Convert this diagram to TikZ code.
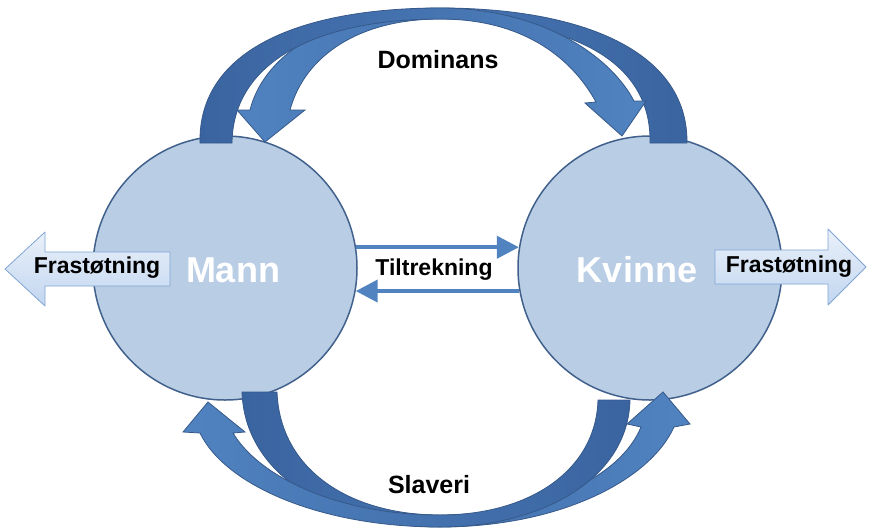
\documentclass[tikz,border=0pt]{standalone}
\usepackage{fontspec}
\setmainfont{Liberation Sans}
\usetikzlibrary{arrows.meta}
\definecolor{circfill}{HTML}{B9CDE5}
\definecolor{circline}{HTML}{41618C}
\definecolor{bandlight}{HTML}{5083C0}
\definecolor{banddark}{HTML}{3A64A0}
\definecolor{bandline}{HTML}{36598A}
\definecolor{repfill}{HTML}{C2D6F0}
\definecolor{repline}{HTML}{7FA4D4}
\begin{document}
\begin{tikzpicture}[x=1pt, y=-1pt,
                    person/.style={circle, draw=circline, line width=1.5pt, fill=circfill,
                                   minimum size=264pt, inner sep=0pt},
                    who/.style={text=white, font=\bfseries\fontsize{36}{40}\selectfont},
                    caption/.style={font=\bfseries\fontsize{25}{30}\selectfont},
                    small caption/.style={font=\bfseries\fontsize{23}{28}\selectfont},
                    repel/.style={draw=repline, line width=0.8pt, line join=round,
                                  top color=repfill!35, bottom color=repfill},
                    pull/.style={draw=bandlight, line width=4pt, -{Triangle[length=22pt, width=22pt]}},
                    band/.style={draw=bandline, line width=0.8pt},
                ]
                \useasboundingbox (0,0) rectangle (870,531);
                % the two persons
                \node[person] (mann) at (225,268) {};
                \node[person] (kvinne) at (650,268) {};
                % dominans, over the top
                \draw[band, left color=bandlight, right color=banddark]
                    (687,143) .. controls (688,50) and (580,8) .. (440,8)
                    .. controls (340,8) and (265,50) .. (250,110)
                    -- (237,110) -- (265,142) coordinate (tipM) -- (305,110) -- (290,110)
                    .. controls (305,55) and (360,19) .. (440,19)
                    .. controls (560,19) and (652,55) .. (650,143) -- cycle;
                \draw[band, left color=banddark, right color=bandlight]
                    (200,143) .. controls (198,50) and (300,8) .. (440,8)
                    .. controls (540,8) and (610,55) .. (634,101)
                    -- (646,101) -- (622,136) coordinate (tipK) -- (585,103) -- (596,102)
                    .. controls (570,55) and (520,19) .. (440,19)
                    .. controls (320,19) and (233,60) .. (232,143) -- cycle;
                % slaveri, under the bottom
                \draw[band, left color=banddark, right color=bandlight]
                    (242,392) .. controls (245,480) and (340,527) .. (440,527)
                    .. controls (560,527) and (650,480) .. (674,427)
                    -- (690,424) -- (663,392) coordinate (tipK2) -- (627,424) -- (641,427)
                    .. controls (620,478) and (540,515) .. (440,515)
                    .. controls (350,515) and (280,470) .. (277,392) -- cycle;
                \draw[band, left color=bandlight, right color=banddark]
                    (630,400) .. controls (628,480) and (540,527) .. (440,527)
                    .. controls (320,527) and (225,485) .. (200,433)
                    -- (183,432) -- (208,402) coordinate (tipM2) -- (245,432) -- (233,433)
                    .. controls (260,478) and (340,515) .. (440,515)
                    .. controls (530,515) and (596,470) .. (598,400) -- cycle;
                % tiltrekning
                \draw[pull] (mann.9) -- (kvinne.171);
                \draw[pull] (kvinne.190) -- (mann.350);
                % frastoetning
                \draw[repel] (5,269) coordinate (frastL) -- (45,232) -- (45,252) -- (170,252)
                    -- (170,286) -- (45,286) -- (45,306) -- cycle;
                \draw[repel] (866,267) coordinate (frastR) -- (828,229) -- (828,250) -- (715,250)
                    -- (715,284) -- (828,284) -- (828,305) -- cycle;
                % texts
                \node[who] (mannTxt) at (233,270) {Mann};
                \node[who] (kvinneTxt) at (637,270) {Kvinne};
                \node[caption] (dominans) at (438,60) {Dominans};
                \node[caption] (slaveri) at (429,485) {Slaveri};
                \node[small caption] (tiltrekning) at (434,270) {Tiltrekning};
                \node[small caption] (frastLTxt) at (97,268) {Frastøtning};
                \node[small caption] (frastRTxt) at (789,267) {Frastøtning};
                \end{tikzpicture}
\end{document}
